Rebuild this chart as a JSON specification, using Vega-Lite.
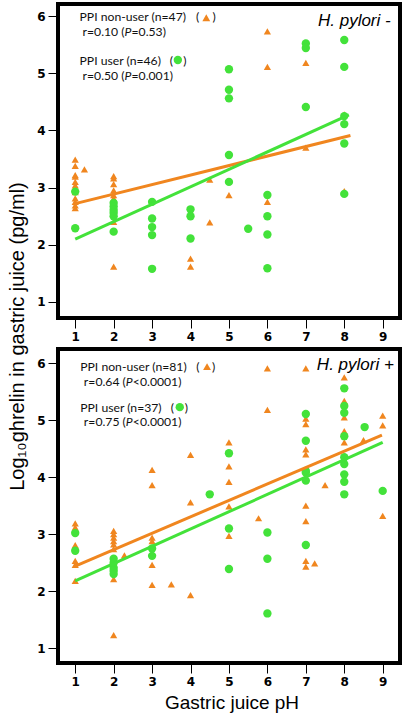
{
  "$schema": "https://vega.github.io/schema/vega-lite/v6.json",
  "padding": {"left": 5, "top": 2, "right": 0, "bottom": 0},
  "background": "white",
  "spacing": 31,
  "bounds": "flush",
  "config": {
    "view": {"stroke": "#000000", "strokeWidth": 4, "fill": "white"},
    "axis": {"grid": false, "domain": false, "ticks": true, "tickColor": "#000000", "tickSize": 10, "tickWidth": 1, "format": "d",
      "labelFont": "DejaVu Sans", "labelFontWeight": "bold", "labelFontSize": 12, "labelColor": "#000000", "labelPadding": 3,
      "titleFont": "Liberation Sans", "titleFontWeight": "normal", "titleColor": "#000000"},
    "text": {"font": "Lato", "fontSize": 12.2, "color": "#111111", "baseline": "alphabetic", "align": "left"}
  },
  "datasets": {
    "pts": [
      {"p":"neg","g":"non","ph":1,"gh":3.49},{"p":"neg","g":"non","ph":1,"gh":3.38},{"p":"neg","g":"non","ph":1,"gh":3.22},{"p":"neg","g":"non","ph":1,"gh":3.19},{"p":"neg","g":"non","ph":1,"gh":3.10},{"p":"neg","g":"non","ph":1,"gh":3.04},{"p":"neg","g":"non","ph":1,"gh":2.98},{"p":"neg","g":"non","ph":1,"gh":2.92},{"p":"neg","g":"non","ph":1,"gh":2.81},{"p":"neg","g":"non","ph":1,"gh":2.75},{"p":"neg","g":"non","ph":1,"gh":2.69},{"p":"neg","g":"non","ph":1,"gh":2.64},{"p":"neg","g":"non","ph":1.24,"gh":3.32},
      {"p":"neg","g":"non","ph":2,"gh":3.20},{"p":"neg","g":"non","ph":2,"gh":3.16},{"p":"neg","g":"non","ph":2,"gh":3.06},{"p":"neg","g":"non","ph":2,"gh":2.95},{"p":"neg","g":"non","ph":2,"gh":2.87},{"p":"neg","g":"non","ph":2,"gh":2.81},{"p":"neg","g":"non","ph":2,"gh":2.40},{"p":"neg","g":"non","ph":2,"gh":1.62},
      {"p":"neg","g":"non","ph":4,"gh":1.76},{"p":"neg","g":"non","ph":4,"gh":1.62},{"p":"neg","g":"non","ph":4.5,"gh":2.39},{"p":"neg","g":"non","ph":4.5,"gh":3.14},{"p":"neg","g":"non","ph":5,"gh":2.87},{"p":"neg","g":"non","ph":6,"gh":2.75},{"p":"neg","g":"non","ph":6,"gh":5.73},{"p":"neg","g":"non","ph":6,"gh":5.11},{"p":"neg","g":"non","ph":7,"gh":5.18},{"p":"neg","g":"non","ph":7,"gh":3.70},{"p":"neg","g":"non","ph":8,"gh":2.94},{"p":"neg","g":"non","ph":8,"gh":4.28},
      {"p":"neg","g":"user","ph":1,"gh":2.93},{"p":"neg","g":"user","ph":1,"gh":2.29},
      {"p":"neg","g":"user","ph":2,"gh":2.73},{"p":"neg","g":"user","ph":2,"gh":2.67},{"p":"neg","g":"user","ph":2,"gh":2.61},{"p":"neg","g":"user","ph":2,"gh":2.56},{"p":"neg","g":"user","ph":2,"gh":2.50},{"p":"neg","g":"user","ph":2,"gh":2.23},
      {"p":"neg","g":"user","ph":3,"gh":2.75},{"p":"neg","g":"user","ph":3,"gh":2.46},{"p":"neg","g":"user","ph":3,"gh":2.31},{"p":"neg","g":"user","ph":3,"gh":2.17},{"p":"neg","g":"user","ph":3,"gh":1.58},
      {"p":"neg","g":"user","ph":4,"gh":2.62},{"p":"neg","g":"user","ph":4,"gh":2.50},{"p":"neg","g":"user","ph":4,"gh":2.11},
      {"p":"neg","g":"user","ph":5,"gh":3.57},{"p":"neg","g":"user","ph":5,"gh":3.10},{"p":"neg","g":"user","ph":5,"gh":5.07},{"p":"neg","g":"user","ph":5,"gh":4.71},{"p":"neg","g":"user","ph":5,"gh":4.56},
      {"p":"neg","g":"user","ph":5.5,"gh":2.28},
      {"p":"neg","g":"user","ph":6,"gh":2.87},{"p":"neg","g":"user","ph":6,"gh":2.50},{"p":"neg","g":"user","ph":6,"gh":2.18},{"p":"neg","g":"user","ph":6,"gh":1.59},
      {"p":"neg","g":"user","ph":7,"gh":5.52},{"p":"neg","g":"user","ph":7,"gh":5.44},{"p":"neg","g":"user","ph":7,"gh":4.41},
      {"p":"neg","g":"user","ph":8,"gh":5.58},{"p":"neg","g":"user","ph":8,"gh":5.11},{"p":"neg","g":"user","ph":8,"gh":4.25},{"p":"neg","g":"user","ph":8,"gh":4.11},{"p":"neg","g":"user","ph":8,"gh":3.77},{"p":"neg","g":"user","ph":8,"gh":2.89},

      {"p":"pos","g":"non","ph":1,"gh":3.19},{"p":"pos","g":"non","ph":1,"gh":3.12},{"p":"pos","g":"non","ph":1,"gh":2.81},{"p":"pos","g":"non","ph":1,"gh":2.53},{"p":"pos","g":"non","ph":1,"gh":2.46},{"p":"pos","g":"non","ph":1,"gh":2.18},
      {"p":"pos","g":"non","ph":2,"gh":3.06},{"p":"pos","g":"non","ph":2,"gh":3.00},{"p":"pos","g":"non","ph":2,"gh":2.94},{"p":"pos","g":"non","ph":2,"gh":2.88},{"p":"pos","g":"non","ph":2,"gh":2.82},{"p":"pos","g":"non","ph":2,"gh":2.74},{"p":"pos","g":"non","ph":2,"gh":2.21},{"p":"pos","g":"non","ph":2,"gh":1.23},
      {"p":"pos","g":"non","ph":2.28,"gh":2.63},
      {"p":"pos","g":"non","ph":3,"gh":4.13},{"p":"pos","g":"non","ph":3,"gh":3.86},{"p":"pos","g":"non","ph":3,"gh":2.94},{"p":"pos","g":"non","ph":3,"gh":2.88},{"p":"pos","g":"non","ph":3,"gh":2.46},{"p":"pos","g":"non","ph":3,"gh":2.11},
      {"p":"pos","g":"non","ph":3.5,"gh":2.12},
      {"p":"pos","g":"non","ph":4,"gh":4.39},{"p":"pos","g":"non","ph":4,"gh":3.56},{"p":"pos","g":"non","ph":4,"gh":1.93},
      {"p":"pos","g":"non","ph":5,"gh":4.61},{"p":"pos","g":"non","ph":5,"gh":4.19},{"p":"pos","g":"non","ph":5,"gh":3.92},{"p":"pos","g":"non","ph":5,"gh":3.49},{"p":"pos","g":"non","ph":5,"gh":2.97},
      {"p":"pos","g":"non","ph":5.77,"gh":3.28},
      {"p":"pos","g":"non","ph":6,"gh":5.91},{"p":"pos","g":"non","ph":6,"gh":5.18},
      {"p":"pos","g":"non","ph":7,"gh":5.91},{"p":"pos","g":"non","ph":7,"gh":5.03},{"p":"pos","g":"non","ph":7,"gh":4.93},{"p":"pos","g":"non","ph":7,"gh":4.49},{"p":"pos","g":"non","ph":7,"gh":4.40},{"p":"pos","g":"non","ph":7,"gh":3.50},{"p":"pos","g":"non","ph":7,"gh":3.23},{"p":"pos","g":"non","ph":7,"gh":2.53},{"p":"pos","g":"non","ph":7,"gh":2.43},
      {"p":"pos","g":"non","ph":7.23,"gh":2.49},{"p":"pos","g":"non","ph":7.5,"gh":3.86},
      {"p":"pos","g":"non","ph":8,"gh":5.75},{"p":"pos","g":"non","ph":8,"gh":5.34},{"p":"pos","g":"non","ph":8,"gh":5.05},{"p":"pos","g":"non","ph":8,"gh":4.81},{"p":"pos","g":"non","ph":8,"gh":4.61},
      {"p":"pos","g":"non","ph":8.5,"gh":4.65},
      {"p":"pos","g":"non","ph":9,"gh":5.08},{"p":"pos","g":"non","ph":9,"gh":4.91},{"p":"pos","g":"non","ph":9,"gh":3.32},
      {"p":"pos","g":"user","ph":1,"gh":3.02},{"p":"pos","g":"user","ph":1,"gh":2.71},
      {"p":"pos","g":"user","ph":2,"gh":2.57},{"p":"pos","g":"user","ph":2,"gh":2.50},{"p":"pos","g":"user","ph":2,"gh":2.41},{"p":"pos","g":"user","ph":2,"gh":2.36},{"p":"pos","g":"user","ph":2,"gh":2.30},
      {"p":"pos","g":"user","ph":3,"gh":2.75},{"p":"pos","g":"user","ph":3,"gh":2.62},
      {"p":"pos","g":"user","ph":4.5,"gh":3.70},
      {"p":"pos","g":"user","ph":5,"gh":4.42},{"p":"pos","g":"user","ph":5,"gh":3.10},{"p":"pos","g":"user","ph":5,"gh":2.39},
      {"p":"pos","g":"user","ph":6,"gh":3.03},{"p":"pos","g":"user","ph":6,"gh":2.57},{"p":"pos","g":"user","ph":6,"gh":1.61},
      {"p":"pos","g":"user","ph":7,"gh":5.11},{"p":"pos","g":"user","ph":7,"gh":4.64},{"p":"pos","g":"user","ph":7,"gh":4.11},{"p":"pos","g":"user","ph":7,"gh":4.08},{"p":"pos","g":"user","ph":7,"gh":3.94},{"p":"pos","g":"user","ph":7,"gh":2.81},
      {"p":"pos","g":"user","ph":8,"gh":5.56},{"p":"pos","g":"user","ph":8,"gh":5.25},{"p":"pos","g":"user","ph":8,"gh":5.13},{"p":"pos","g":"user","ph":8,"gh":4.72},{"p":"pos","g":"user","ph":8,"gh":4.35},{"p":"pos","g":"user","ph":8,"gh":4.23},{"p":"pos","g":"user","ph":8,"gh":4.05},{"p":"pos","g":"user","ph":8,"gh":3.92},{"p":"pos","g":"user","ph":8,"gh":3.70},
      {"p":"pos","g":"user","ph":8.53,"gh":4.88},
      {"p":"pos","g":"user","ph":9,"gh":3.76}
    ],
    "fits": [
      {"p":"neg","g":"non","ph":1,"gh":2.72},{"p":"neg","g":"non","ph":8.16,"gh":3.91},
      {"p":"neg","g":"user","ph":1,"gh":2.10},{"p":"neg","g":"user","ph":8.12,"gh":4.27},
      {"p":"pos","g":"non","ph":1,"gh":2.44},{"p":"pos","g":"non","ph":8.98,"gh":4.74},
      {"p":"pos","g":"user","ph":1,"gh":2.18},{"p":"pos","g":"user","ph":9.0,"gh":4.61}
    ]
  },
  "vconcat": [
    {
      "width": 342, "height": 314,
      "layer": [
        {"data": {"name": "pts"}, "transform": [{"filter": "datum.p == 'neg' && datum.g == 'non'"}],
         "mark": {"type": "point", "shape": "triangle-up", "filled": true, "color": "#F0861F", "size": 52, "opacity": 1},
         "encoding": {
           "x": {"field": "ph", "type": "quantitative", "scale": {"domain": [0.552, 9.45], "nice": false, "zero": false},
                 "axis": {"values": [1,2,3,4,5,6,7,8,9], "title": null}},
           "y": {"field": "gh", "type": "quantitative", "scale": {"domain": [0.72, 6.21], "nice": false, "zero": false},
                 "axis": {"values": [1,2,3,4,5,6], "title": "Log₁₀ghrelin in gastric juice (pg/ml)", "titleFontSize": 20,
                          "titleX": -34.5, "titleY": 332, "titleAngle": 270, "titleAlign": "center", "titleBaseline": "alphabetic"}}
         }},
        {"data": {"name": "pts"}, "transform": [{"filter": "datum.p == 'neg' && datum.g == 'user'"}],
         "mark": {"type": "point", "shape": "circle", "filled": true, "color": "#43E23A", "size": 70, "opacity": 1},
         "encoding": {"x": {"field": "ph", "type": "quantitative"}, "y": {"field": "gh", "type": "quantitative"}}},
        {"data": {"name": "fits"}, "transform": [{"filter": "datum.p == 'neg' && datum.g == 'non'"}],
         "mark": {"type": "line", "color": "#F0861F", "strokeWidth": 3},
         "encoding": {"x": {"field": "ph", "type": "quantitative"}, "y": {"field": "gh", "type": "quantitative"}}},
        {"data": {"name": "fits"}, "transform": [{"filter": "datum.p == 'neg' && datum.g == 'user'"}],
         "mark": {"type": "line", "color": "#43E23A", "strokeWidth": 3},
         "encoding": {"x": {"field": "ph", "type": "quantitative"}, "y": {"field": "gh", "type": "quantitative"}}},
        {"data": {"values": [{}]}, "mark": {"type": "text", "text": "PPI non-user (n=47)"},
         "encoding": {"x": {"datum": 1.112}, "y": {"datum": 5.918}}},
        {"data": {"values": [{}]}, "mark": {"type": "text", "text": "(", "align": "center"},
         "encoding": {"x": {"datum": 4.184}, "y": {"datum": 5.918}}},
        {"data": {"values": [{}]}, "mark": {"type": "text", "text": ")", "align": "center"},
         "encoding": {"x": {"datum": 4.613}, "y": {"datum": 5.918}}},
        {"data": {"values": [{}]}, "mark": {"type": "point", "shape": "triangle-up", "filled": true, "color": "#F0861F", "size": 62, "opacity": 1},
         "encoding": {"x": {"datum": 4.41}, "y": {"datum": 5.97}}},
        {"data": {"values": [{}]}, "mark": {"type": "text", "text": "r=0.10 (", "align": "right"},
         "encoding": {"x": {"datum": 2.283}, "y": {"datum": 5.65}}},
        {"data": {"values": [{}]}, "mark": {"type": "text", "text": "P", "fontStyle": "italic"},
         "encoding": {"x": {"datum": 2.283}, "y": {"datum": 5.65}}},
        {"data": {"values": [{}]}, "mark": {"type": "text", "text": "=0.53)"},
         "encoding": {"x": {"datum": 2.465}, "y": {"datum": 5.65}}},
        {"data": {"values": [{}]}, "mark": {"type": "text", "text": "PPI user (n=46)"},
         "encoding": {"x": {"datum": 1.112}, "y": {"datum": 5.14}}},
        {"data": {"values": [{}]}, "mark": {"type": "text", "text": "(", "align": "center"},
         "encoding": {"x": {"datum": 3.50}, "y": {"datum": 5.14}}},
        {"data": {"values": [{}]}, "mark": {"type": "text", "text": ")", "align": "center"},
         "encoding": {"x": {"datum": 3.85}, "y": {"datum": 5.14}}},
        {"data": {"values": [{}]}, "mark": {"type": "point", "shape": "circle", "filled": true, "color": "#43E23A", "size": 70, "opacity": 1},
         "encoding": {"x": {"datum": 3.67}, "y": {"datum": 5.23}}},
        {"data": {"values": [{}]}, "mark": {"type": "text", "text": "r=0.50 (", "align": "right"},
         "encoding": {"x": {"datum": 2.283}, "y": {"datum": 4.88}}},
        {"data": {"values": [{}]}, "mark": {"type": "text", "text": "P", "fontStyle": "italic"},
         "encoding": {"x": {"datum": 2.283}, "y": {"datum": 4.88}}},
        {"data": {"values": [{}]}, "mark": {"type": "text", "text": "=0.001)"},
         "encoding": {"x": {"datum": 2.465}, "y": {"datum": 4.88}}},
        {"data": {"values": [{}]}, "mark": {"type": "text", "text": "H. pylori -", "align": "right", "font": "Liberation Sans", "fontSize": 17, "fontStyle": "italic", "color": "#000000"},
         "encoding": {"x": {"datum": 9.208}, "y": {"datum": 5.825}}}
      ]
    },
    {
      "width": 342, "height": 314,
      "layer": [
        {"data": {"name": "pts"}, "transform": [{"filter": "datum.p == 'pos' && datum.g == 'non'"}],
         "mark": {"type": "point", "shape": "triangle-up", "filled": true, "color": "#F0861F", "size": 52, "opacity": 1},
         "encoding": {
           "x": {"field": "ph", "type": "quantitative", "scale": {"domain": [0.552, 9.45], "nice": false, "zero": false},
                 "axis": {"values": [1,2,3,4,5,6,7,8,9], "title": "Gastric juice pH", "titleFontSize": 19,
                          "titleX": 173.5, "titleY": 45, "titleAlign": "center", "titleBaseline": "alphabetic"}},
           "y": {"field": "gh", "type": "quantitative", "scale": {"domain": [0.74, 6.25], "nice": false, "zero": false},
                 "axis": {"values": [1,2,3,4,5,6], "title": null}}
         }},
        {"data": {"name": "pts"}, "transform": [{"filter": "datum.p == 'pos' && datum.g == 'user'"}],
         "mark": {"type": "point", "shape": "circle", "filled": true, "color": "#43E23A", "size": 70, "opacity": 1},
         "encoding": {"x": {"field": "ph", "type": "quantitative"}, "y": {"field": "gh", "type": "quantitative"}}},
        {"data": {"name": "fits"}, "transform": [{"filter": "datum.p == 'pos' && datum.g == 'non'"}],
         "mark": {"type": "line", "color": "#F0861F", "strokeWidth": 3},
         "encoding": {"x": {"field": "ph", "type": "quantitative"}, "y": {"field": "gh", "type": "quantitative"}}},
        {"data": {"name": "fits"}, "transform": [{"filter": "datum.p == 'pos' && datum.g == 'user'"}],
         "mark": {"type": "line", "color": "#43E23A", "strokeWidth": 3},
         "encoding": {"x": {"field": "ph", "type": "quantitative"}, "y": {"field": "gh", "type": "quantitative"}}},
        {"data": {"values": [{}]}, "mark": {"type": "text", "text": "PPI non-user (n=81)"},
         "encoding": {"x": {"datum": 1.13}, "y": {"datum": 5.869}}},
        {"data": {"values": [{}]}, "mark": {"type": "text", "text": "(", "align": "center"},
         "encoding": {"x": {"datum": 4.19}, "y": {"datum": 5.869}}},
        {"data": {"values": [{}]}, "mark": {"type": "text", "text": ")", "align": "center"},
         "encoding": {"x": {"datum": 4.60}, "y": {"datum": 5.869}}},
        {"data": {"values": [{}]}, "mark": {"type": "point", "shape": "triangle-up", "filled": true, "color": "#F0861F", "size": 62, "opacity": 1},
         "encoding": {"x": {"datum": 4.43}, "y": {"datum": 5.94}}},
        {"data": {"values": [{}]}, "mark": {"type": "text", "text": "r=0.64 (", "align": "right"},
         "encoding": {"x": {"datum": 2.317}, "y": {"datum": 5.60}}},
        {"data": {"values": [{}]}, "mark": {"type": "text", "text": "P", "fontStyle": "italic"},
         "encoding": {"x": {"datum": 2.317}, "y": {"datum": 5.60}}},
        {"data": {"values": [{}]}, "mark": {"type": "text", "text": "<0.0001)"},
         "encoding": {"x": {"datum": 2.50}, "y": {"datum": 5.60}}},
        {"data": {"values": [{}]}, "mark": {"type": "text", "text": "PPI user (n=37)"},
         "encoding": {"x": {"datum": 1.13}, "y": {"datum": 5.15}}},
        {"data": {"values": [{}]}, "mark": {"type": "text", "text": "(", "align": "center"},
         "encoding": {"x": {"datum": 3.53}, "y": {"datum": 5.15}}},
        {"data": {"values": [{}]}, "mark": {"type": "text", "text": ")", "align": "center"},
         "encoding": {"x": {"datum": 3.89}, "y": {"datum": 5.15}}},
        {"data": {"values": [{}]}, "mark": {"type": "point", "shape": "circle", "filled": true, "color": "#43E23A", "size": 70, "opacity": 1},
         "encoding": {"x": {"datum": 3.72}, "y": {"datum": 5.23}}},
        {"data": {"values": [{}]}, "mark": {"type": "text", "text": "r=0.75 (", "align": "right"},
         "encoding": {"x": {"datum": 2.317}, "y": {"datum": 4.90}}},
        {"data": {"values": [{}]}, "mark": {"type": "text", "text": "P", "fontStyle": "italic"},
         "encoding": {"x": {"datum": 2.317}, "y": {"datum": 4.90}}},
        {"data": {"values": [{}]}, "mark": {"type": "text", "text": "<0.0001)"},
         "encoding": {"x": {"datum": 2.50}, "y": {"datum": 4.90}}},
        {"data": {"values": [{}]}, "mark": {"type": "text", "text": "H. pylori +", "align": "right", "font": "Liberation Sans", "fontSize": 17, "fontStyle": "italic", "color": "#000000"},
         "encoding": {"x": {"datum": 9.29}, "y": {"datum": 5.88}}}
      ]
    }
  ]
}
